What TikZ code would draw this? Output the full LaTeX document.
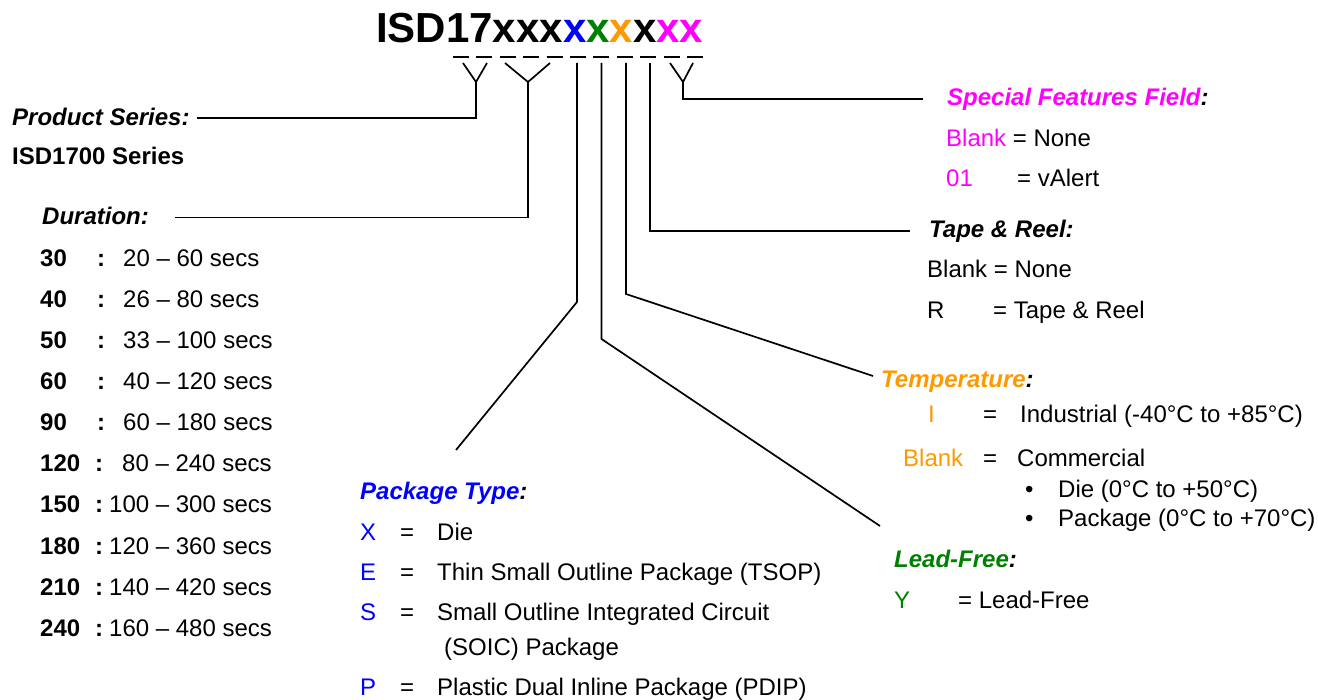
\documentclass[tikz,border=0pt]{standalone}
\usepackage{fontspec}
\setmainfont{Liberation Sans}
\definecolor{pkblue}{RGB}{0,0,255}
\definecolor{lfgreen}{RGB}{0,128,0}
\definecolor{tporange}{RGB}{255,153,0}
\definecolor{sfmag}{RGB}{255,0,255}
\begin{document}
\begin{tikzpicture}[x=1pt,y=-1pt,
  txt/.style={anchor=base west, inner sep=0pt, font=\fontsize{24}{28}\selectfont},
  hdr/.style={anchor=base west, inner sep=0pt, font=\fontsize{24}{28}\selectfont\bfseries\itshape},
  btxt/.style={anchor=base west, inner sep=0pt, font=\fontsize{24}{28}\selectfont\bfseries},
  conn/.style={line width=1.7pt, black}]
\useasboundingbox (0,0) rectangle (1318,700);

% title
\node[anchor=base west, inner sep=0pt, font=\fontsize{42}{48}\selectfont\bfseries] (title) at (376,43)
  {ISD17xxx\textcolor{pkblue}{x}\textcolor{lfgreen}{x}\textcolor{tporange}{x}x\textcolor{sfmag}{xx}};

% underline dashes
\coordinate (dashL) at (453,57);
\coordinate (dashR) at (703,57);
\draw[conn, dash pattern=on 16pt off 7.4pt] (dashL) -- (dashR);

% left: product series / duration
\node[hdr] (ps) at (12,125.5) {Product Series:};
\node[btxt] (pss) at (12,165) {ISD1700 Series};
\node[hdr] (du) at (42,225) {Duration:};

\foreach \n/\t/\yy/\cx/\rx [count=\i] in {
  30/20 -- 60 secs/267/97/123,
  40/26 -- 80 secs/308/97/123,
  50/33 -- 100 secs/349/97/123,
  60/40 -- 120 secs/390/97/123,
  90/60 -- 180 secs/431/97/123,
  120/80 -- 240 secs/472/95/122,
  150/100 -- 300 secs/513/95/109,
  180/120 -- 360 secs/554/95/109,
  210/140 -- 420 secs/595/95/109,
  240/160 -- 480 secs/636/95/109}{
  \node[btxt] (dn\i) at (40,\yy) {\n};
  \node[btxt] (dc\i) at (\cx,\yy) {:};
  \node[txt] (dr\i) at (\rx,\yy) {\t};
}

% package type
\node[hdr] (pt) at (360,500) {\textcolor{pkblue}{Package Type}:};
\foreach \l/\t/\yy [count=\i] in {X/Die/540, E/Thin Small Outline Package (TSOP)/580,
  S/Small Outline Integrated Circuit/620, P/Plastic Dual Inline Package (PDIP)/695}{
  \node[txt, text=pkblue] (pl\i) at (360,\yy) {\l};
  \node[txt] (pe\i) at (400,\yy) {=};
  \node[txt] (pd\i) at (437,\yy) {\t};
}
\node[txt] (pd3b) at (444,655) {(SOIC) Package};

% special features
\node[hdr] (sf) at (947,106) {\textcolor{sfmag}{Special Features Field}:};
\node[txt] (sf1) at (946,147) {\textcolor{sfmag}{Blank} = None};
\node[txt, text=sfmag] (sf2a) at (946,187) {01};
\node[txt] (sf2b) at (1017,187) {= vAlert};

% tape & reel
\node[hdr] (tr) at (929,238) {Tape \& Reel:};
\node[txt] (tr1) at (927,278) {Blank = None};
\node[txt] (tr2a) at (927,319) {R};
\node[txt] (tr2b) at (993,319) {= Tape \& Reel};

% temperature
\node[hdr] (tp) at (881,388) {\textcolor{tporange}{Temperature}:};
\node[txt, text=tporange] (tp1a) at (928,423) {I};
\node[txt] (tp1b) at (983,423) {=};
\node[txt] (tp1c) at (1020,423) {Industrial (-40°C to +85°C)};
\node[txt, text=tporange] (tp2a) at (903,467) {Blank};
\node[txt] (tp2b) at (983,467) {=};
\node[txt] (tp2c) at (1017,467) {Commercial};
\node[txt] (tp3a) at (1025,497) {•};
\node[txt] (tp3b) at (1058,497) {Die (0°C to +50°C)};
\node[txt] (tp4a) at (1025,526) {•};
\node[txt] (tp4b) at (1058,526) {Package (0°C to +70°C)};

% lead-free
\node[hdr] (lf) at (894,567) {\textcolor{lfgreen}{Lead-Free}:};
\node[txt, text=lfgreen] (lf1a) at (894,608) {Y};
\node[txt] (lf1b) at (958,608) {= Lead-Free};

% connector coordinates
\coordinate (y1a) at (463,63);
\coordinate (y1b) at (487,63);
\coordinate (y1j) at (476,82);
\coordinate (psend) at (197,117.7);
\coordinate (y2a) at (505,63);
\coordinate (y2b) at (550,63);
\coordinate (y2j) at (528,82);
\coordinate (duend) at (175,217.5);
\coordinate (v1t) at (577,63);
\coordinate (v1k) at (577,302);
\coordinate (v1e) at (456,450);
\coordinate (v2t) at (601.5,63);
\coordinate (v2k) at (601.5,339);
\coordinate (v2e) at (880,526);
\coordinate (v3t) at (626,63);
\coordinate (v3k) at (626,294);
\coordinate (v3e) at (873,376);
\coordinate (v4t) at (650,63);
\coordinate (v4e) at (910,231);
\coordinate (y3a) at (670,63);
\coordinate (y3b) at (693,63);
\coordinate (y3j) at (683,82);
\coordinate (sfend) at (923,99);

\draw[conn] (y1a) -- (y1j) -- (y1b);
\draw[conn] (y1j) |- (psend);
\draw[conn] (y2a) -- (y2j) -- (y2b);
\draw[conn] (y2j) |- (duend);
\draw[conn] (v1t) -- (v1k) -- (v1e);
\draw[conn] (v2t) -- (v2k) -- (v2e);
\draw[conn] (v3t) -- (v3k) -- (v3e);
\draw[conn] (v4t) |- (v4e);
\draw[conn] (y3a) -- (y3j) -- (y3b);
\draw[conn] (y3j) |- (sfend);
\end{tikzpicture}
\end{document}
